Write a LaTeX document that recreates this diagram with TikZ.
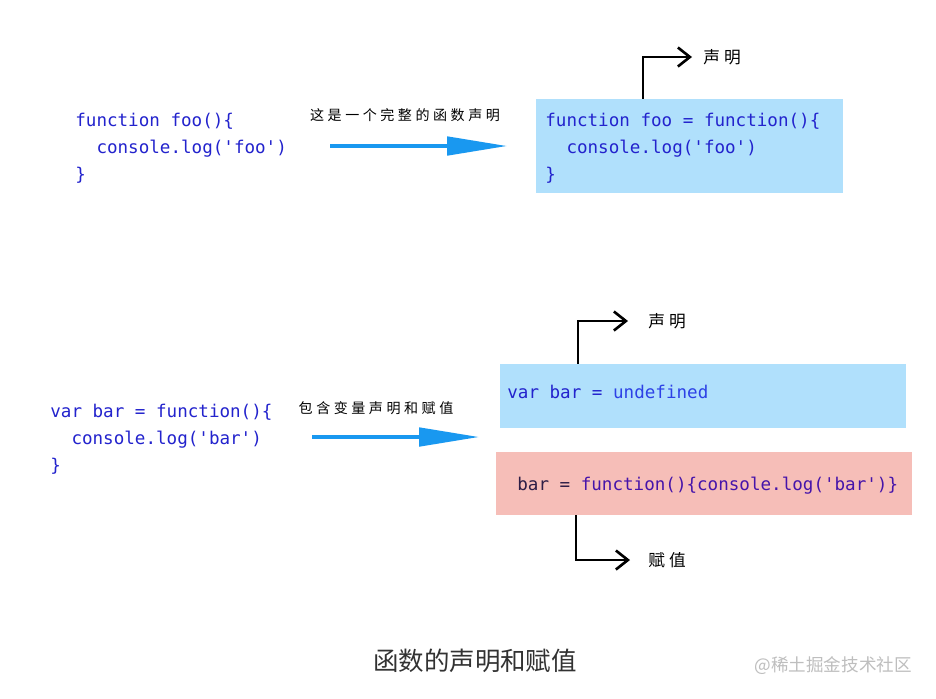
\documentclass[tikz,border=0pt]{standalone}
\usepackage{fontspec}
\setmonofont{DejaVu Sans Mono}
\newfontfamily\cjk{Noto Sans CJK SC}
\newfontfamily\cjkhand{Noto Sans CJK SC}[LetterSpace=25]
\newfontfamily\cjkside{Noto Sans CJK SC}[LetterSpace=25]
\definecolor{jscode}{RGB}{35,35,205}
\definecolor{jsbright}{RGB}{45,65,230}
\definecolor{jsdark}{RGB}{45,30,70}
\definecolor{jspurple}{RGB}{70,20,170}
\definecolor{jsboxblue}{RGB}{176,224,252}
\definecolor{jsboxpink}{RGB}{246,190,184}
\definecolor{jsarrow}{RGB}{25,152,240}
\definecolor{jscaption}{RGB}{50,50,50}
\definecolor{jsmark}{RGB}{190,190,190}
\usetikzlibrary{arrows.meta,positioning}

\begin{document}
\begin{tikzpicture}[x=0.02cm,y=-0.02cm,
  codetext/.style={font=\ttfamily\fontsize{10}{15.3}\selectfont,text=jscode,align=left,inner sep=0pt},
  codebox/.style={inner sep=0pt,draw=none},
  handlabel/.style={font=\cjkhand\fontsize{8}{9}\selectfont,text=black,inner sep=0pt},
  sidelabel/.style={font=\cjkside\fontsize{9.5}{10}\selectfont,text=black,inner sep=0pt,anchor=west},
  fatarrow/.style={draw=jsarrow,line width=2.8pt,-{Triangle[length=1.22cm,width=0.36cm]}},
  handline/.style={draw=black,line width=1.5pt,-{Straight Barb[length=0.24cm,width=0.38cm]}}
]
  \fill[white] (0,0) rectangle (936,698);
  \useasboundingbox (0,0) rectangle (936,698);
  % Top: a plain declaration
  \node[codetext,anchor=base west] (fooCode) at (75,180)
    {function foo()\{\\\ \ console.log('foo')\\\}};
  \node[handlabel] (fooNote) at (405,115) {这是一个完整的函数声明};
  \coordinate (fooFrom) at (330,146);
  \coordinate (fooTo) at (508,146);
  \draw[fatarrow] (fooFrom) -- (fooTo);
  \node[codebox,fill=jsboxblue,minimum width=6.14cm,minimum height=1.88cm] (fooBox) at (689.5,146) {};
  \node[codetext,anchor=base west] (fooBoxCode) at (545,180)
    {function foo = function()\{\\\ \ console.log('foo')\\\}};
  \node[sidelabel] (fooDecl) at (703,57) {声明};
  \draw[handline] ([xshift=-0.93cm]fooBox.north) |- ([xshift=-0.22cm]fooDecl.west);
  % Bottom: declaration plus assignment
  \node[codetext,anchor=base west] (barCode) at (50,471)
    {var bar = function()\{\\\ \ console.log('bar')\\\}};
  \node[handlabel] (barNote) at (376,408) {包含变量声明和赋值};
  \coordinate (barFrom) at (312,437);
  \coordinate (barTo) at (480,437);
  \draw[fatarrow] (barFrom) -- (barTo);
  \node[codebox,fill=jsboxblue,minimum width=8.12cm,minimum height=1.28cm] (declBox) at (703,396) {};
  \node[codetext,anchor=base west] (declCode) at (507,398)
    {var bar = \textcolor{jsbright}{undefined}};
  \node[codebox,fill=jsboxpink,minimum width=8.32cm,minimum height=1.26cm] (assignBox) at (704,483.5) {};
  \node[codetext,anchor=base west,text=jspurple] (assignCode) at (517,490)
    {\textcolor{jsdark}{bar =} function()\{console.log('bar')\}};
  \node[sidelabel] (barDecl) at (648,321) {声明};
  \node[sidelabel] (barAssign) at (648,560) {赋值};
  \draw[handline] ([xshift=-2.5cm]declBox.north) |- ([xshift=-0.4cm]barDecl.west);
  \draw[handline] ([xshift=-2.56cm]assignBox.south) |- ([xshift=-0.36cm]barAssign.west);
  % Caption
  \node[font=\cjk\fontsize{14.5}{16}\selectfont,text=jscaption] (caption) at (475,661) {函数的声明和赋值};
  \node[anchor=east,font=\cjk\fontsize{10}{12}\selectfont,text=jsmark] (mark) at (918,666) {@稀土掘金技术社区};
\end{tikzpicture}
\end{document}
